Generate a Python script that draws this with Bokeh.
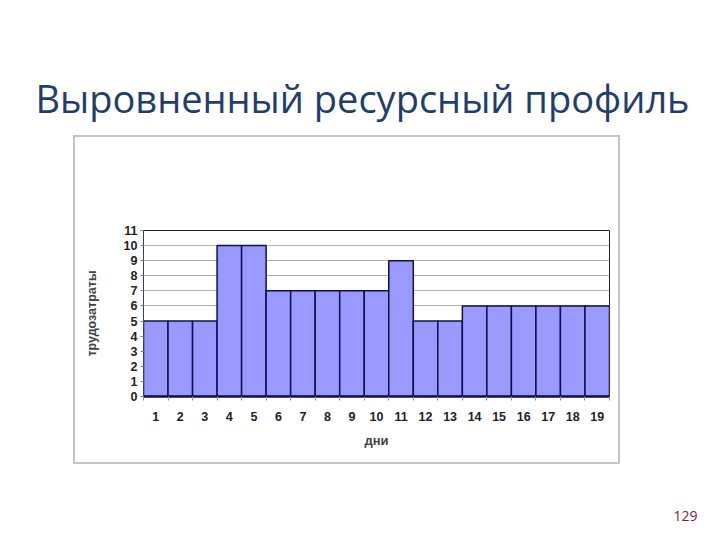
from bokeh.plotting import figure
from bokeh.models import FixedTicker, Range1d, Spacer
from bokeh.layouts import column, row
from bokeh.core.properties import value
from bokeh.embed import file_html
from bokeh.resources import INLINE

days = list(range(1, 20))
labor = [5, 5, 5, 10, 10, 7, 7, 7, 7, 7, 9, 5, 5, 6, 6, 6, 6, 6, 6]
y_ticks = list(range(0, 12))
title_text = "Выровненный ресурсный профиль"
x_label = "дни"
y_label = "трудозатраты"
page_no = "129"

W = 720
TOP_H, FOOT_H = 135, 76
BOX_L = 73
BW = 2                       # box line thickness
IN_W, IN_H = 543, 325        # chart inside the box
BOX_COLOR = "#C4C4C4"


def blank(width, height):
    f = figure(width=width, height=height, output_backend="svg", toolbar_location=None,
               x_range=Range1d(0, width), y_range=Range1d(height, 0),
               min_border=0, x_axis_type=None, y_axis_type=None)
    f.grid.visible = False
    f.outline_line_color = None
    f.background_fill_color = "white"
    f.border_fill_color = "white"
    return f


def line(width, height):
    return Spacer(width=width, height=height, styles={"background-color": BOX_COLOR})


# ---- title strip
head = blank(W, TOP_H)
head.text(x=[362], y=[97], text=[title_text], text_font=value("Open Sans"),
          text_font_size="38px", text_color="#1F3E6B",
          text_align="center", text_baseline="middle")

# ---- chart
p = figure(width=IN_W, height=IN_H, output_backend="svg", toolbar_location=None,
           x_range=Range1d(0.5, 19.5), y_range=Range1d(0, 11),
           min_border_left=68, min_border_right=9,
           min_border_top=93, min_border_bottom=66)
p.background_fill_color = "white"
p.border_fill_color = "white"
p.outline_line_color = "#202020"
p.outline_line_width = 1

p.vbar(x=days, top=labor, width=1, bottom=0,
       fill_color="#9999FF", line_color="#10104A", line_width=1.5)

p.yaxis.ticker = FixedTicker(ticks=y_ticks)
p.yaxis.axis_line_color = "#404040"
p.yaxis.major_tick_out = 3
p.yaxis.major_tick_in = 0
p.yaxis.major_tick_line_color = "#808080"
p.yaxis.minor_tick_line_color = None
p.yaxis.major_label_text_font = "Liberation Sans"
p.yaxis.major_label_text_font_size = "12.5px"
p.yaxis.major_label_text_font_style = "bold"
p.yaxis.major_label_text_color = "#222222"
p.yaxis.major_label_standoff = 3
p.yaxis.axis_label = y_label
p.yaxis.axis_label_text_font = "Liberation Sans"
p.yaxis.axis_label_text_font_style = "bold"
p.yaxis.axis_label_text_font_size = "12.5px"
p.yaxis.axis_label_standoff = 22

p.xaxis.ticker = FixedTicker(ticks=days, minor_ticks=[d + 0.5 for d in range(0, 20)])
p.xaxis.axis_line_color = "#10104A"
p.xaxis.axis_line_width = 2.5
p.xaxis.major_tick_line_color = None
p.xaxis.minor_tick_line_color = "#909090"
p.xaxis.minor_tick_out = 4
p.xaxis.minor_tick_in = 0
p.xaxis.major_label_text_font = "Liberation Sans"
p.xaxis.major_label_text_font_size = "12.5px"
p.xaxis.major_label_text_font_style = "bold"
p.xaxis.major_label_text_color = "#222222"
p.xaxis.major_label_standoff = 9
p.xaxis.axis_label = x_label
p.xaxis.axis_label_text_font = "Liberation Sans"
p.xaxis.axis_label_text_font_style = "bold"
p.xaxis.axis_label_text_font_size = "13px"
p.xaxis.axis_label_standoff = 9

p.xgrid.grid_line_color = None
p.ygrid.ticker = FixedTicker(ticks=y_ticks)
p.ygrid.grid_line_color = "#B0B0B0"
p.ygrid.grid_line_width = 1

boxed = column(
    line(IN_W + 2 * BW, BW),
    row(line(BW, IN_H), p, line(BW, IN_H)),
    line(IN_W + 2 * BW, BW),
)
mid = row(Spacer(width=BOX_L, height=IN_H + 2 * BW), boxed,
          Spacer(width=W - BOX_L - IN_W - 2 * BW, height=IN_H + 2 * BW))

# ---- footer with page number
foot = blank(W, FOOT_H)
foot.text(x=[685], y=[51], text=[page_no], text_font=value("Open Sans"),
          text_font_size="14px", text_color="#7A1F33",
          text_align="center", text_baseline="middle")

layout = column(head, mid, foot)
open("out.html", "w").write(file_html(layout, INLINE))
